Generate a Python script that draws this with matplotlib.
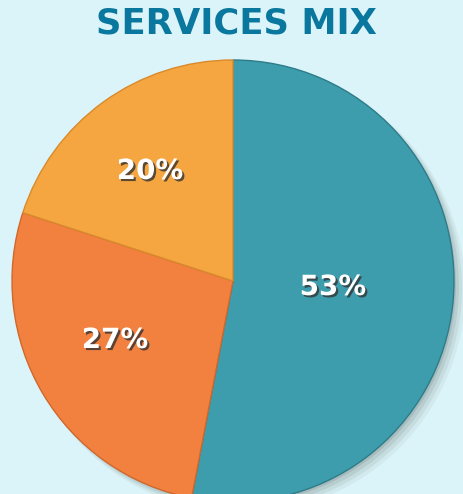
import matplotlib.pyplot as plt
import matplotlib.patheffects as pe
from matplotlib.patches import Circle

# chart data
labels = ['53%', '27%', '20%']
shares = [53, 27, 20]
colors = ['#3d9dad', '#f2813f', '#f5a640']
edges = ['#2c7c89', '#d0682c', '#d98a2c']

bg = '#dbf4f9'

fig = plt.figure(figsize=(4.63, 4.94), dpi=100, facecolor=bg)
ax = fig.add_axes([0, 0, 1, 1])
ax.set_facecolor(bg)

cx, cy, r = 233, 213, 221

# soft shadow under the pie
for i, a in enumerate([0.05, 0.07, 0.09, 0.12]):
    off = 9 - i * 2
    ax.add_patch(Circle((cx + off, cy - off), r + 2 - i, color='#333333', alpha=a, lw=0, zorder=1))

wedges, _ = ax.pie(shares, colors=colors, startangle=90, counterclock=False,
                   center=(cx, cy), radius=r, frame=True,
                   wedgeprops=dict(linewidth=1.0, zorder=2))
for w, ec in zip(wedges, edges):
    w.set_edgecolor(ec)

ax.set_xlim(0, 463)
ax.set_ylim(0, 494)
ax.set_aspect('equal')
ax.axis('off')

label_pos = [(333, 207), (115, 154), (150, 323)]
for txt, (x, y) in zip(labels, label_pos):
    ax.text(x, y, txt, color='white', fontsize=20, fontweight='heavy',
            ha='center', va='center', zorder=5,
            path_effects=[pe.withSimplePatchShadow(offset=(1.5, -1.5), shadow_rgbFace='#333333', alpha=0.8)])

fig.text(236 / 463, 461 / 494, 'SERVICES MIX', color='#0a789e', fontsize=25.5,
         fontweight='bold', ha='center', va='baseline')

fig.savefig('out.png', dpi=100, facecolor=bg)
